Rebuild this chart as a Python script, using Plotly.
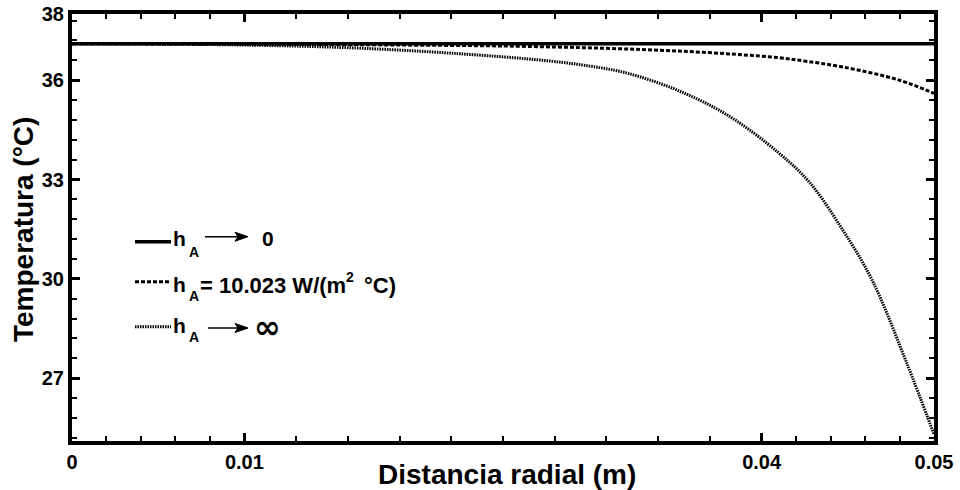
import plotly.graph_objects as go

# Radial temperature profiles (r in metres, T in degrees Celsius)
r_zero = [0.0, 0.05]
t_zero = [37.1, 37.1]

r_finite = [0.0, 0.010, 0.0195, 0.0265, 0.0352, 0.041, 0.0422, 0.0447, 0.048, 0.050]
t_finite = [37.1, 37.09, 37.06, 37.02, 36.88, 36.68, 36.6, 36.4, 36.0, 35.6]

r_inf = [0.0, 0.005, 0.0103, 0.0161, 0.0219, 0.0277, 0.0306, 0.0323, 0.0352,
         0.0381, 0.0410, 0.0428, 0.0447, 0.0464, 0.0484, 0.050]
t_inf = [37.1, 37.09, 37.06, 36.98, 36.82, 36.58, 36.38, 36.2, 35.68,
         34.92, 33.8, 32.9, 31.48, 29.97, 27.48, 25.3]

x_ticks = [0, 0.01, 0.04, 0.05]
x_tick_text = ["0", "0.01", "0.04", "0.05"]
x_minor = [0.002, 0.004, 0.006, 0.008,
           0.013, 0.016, 0.019, 0.022, 0.025, 0.028, 0.031, 0.034, 0.037,
           0.042, 0.044, 0.046, 0.048]
y_ticks = [27, 30, 33, 36, 38]
y_tick_text = ["27", "30", "33", "36", "38"]
y_minor = [25.2, 25.8, 26.4, 27.6, 28.2, 28.8, 29.4, 30.6, 31.2, 31.8, 32.4,
           33.6, 34.2, 34.8, 35.4, 36.6, 37.2, 37.8]

FONT = "Liberation Sans, Arial, sans-serif"
PL, PR, PT, PB = 72, 934, 14, 441


def px(xp):
    return (xp - PL) / (PR - PL)


def py(yp):
    return (PB - yp) / (PB - PT)


fig = go.Figure()
fig.add_trace(go.Scatter(x=r_inf, y=t_inf, mode="lines", showlegend=False,
                         line=dict(color="black", width=3, dash="1.5px,1px", shape="spline")))
fig.add_trace(go.Scatter(x=r_finite, y=t_finite, mode="lines", showlegend=False,
                         line=dict(color="black", width=3, dash="4px,2px", shape="spline")))
fig.add_trace(go.Scatter(x=r_zero, y=t_zero, mode="lines", showlegend=False,
                         line=dict(color="black", width=3.5)))

axis_common = dict(
    showline=True, linewidth=4, linecolor="black", mirror="ticks",
    ticks="inside", ticklen=8, tickwidth=3, tickcolor="black",
    showgrid=False, zeroline=False, automargin=False,
    tickfont=dict(family=FONT, size=20, color="black", weight="bold"),
)
minor_common = dict(tickmode="array", ticks="inside", ticklen=5, tickwidth=2,
                    tickcolor="black", showgrid=False)

fig.update_layout(
    width=960, height=490,
    margin=dict(l=PL, r=960 - PR, t=PT, b=490 - PB, pad=0),
    paper_bgcolor="white", plot_bgcolor="white",
    xaxis=dict(range=[0, 0.05], tickmode="array", tickvals=x_ticks,
               ticktext=["<b>%s</b>" % t for t in x_tick_text],
               minor=dict(tickvals=x_minor, **minor_common), **axis_common),
    yaxis=dict(range=[25.1, 38.0], tickmode="array", tickvals=y_ticks,
               ticktext=["<b>%s</b>" % t for t in y_tick_text],
               minor=dict(tickvals=y_minor, **minor_common), **axis_common),
)

bold = dict(family=FONT, size=21, color="black", weight="bold")
bold_wide = dict(family=FONT, size=22, color="black", weight="bold")
small = dict(family=FONT, size=14, color="black", weight="bold")
title_font = dict(family=FONT, size=28, color="black", weight="bold")


def label(xp, yp, text, font, **kw):
    return dict(x=px(xp), y=py(yp), xref="paper", yref="paper", text=text,
                showarrow=False, font=font, xanchor=kw.get("xanchor", "left"),
                yanchor="middle", textangle=kw.get("textangle", 0))


ann = [
    label(507, 474, "<b>Distancia radial (m)</b>", title_font, xanchor="center"),
    label(23, 230, "<b>Temperatura (°C)</b>", title_font, xanchor="center", textangle=-90),
    # row 1: h_A -> 0
    label(171, 238, "<b>h</b>", bold),
    label(187, 252, "<b>A</b>", small),
    label(260, 238, "<b>0</b>", bold),
    # row 2: h_A = 10.023 W/(m^2 °C)
    label(171, 284, "<b>h</b>", bold),
    label(187, 296, "<b>A</b>", small),
    label(198, 285, "<b>= 10.023 W/(m</b>", bold_wide),
    label(344, 277, "<b>2</b>", small),
    label(362, 285, "<b>°C)</b>", bold_wide),
    # row 3: h_A -> infinity
    label(171, 326, "<b>h</b>", bold),
    label(187, 337, "<b>A</b>", small),
    label(252, 327, "∞", dict(family="DejaVu Sans", size=32, color="black", weight="bold")),
]

shapes = []
# legend line samples
for y_s, dash, w in [(241.7, "solid", 3.5), (281.7, "4px,2px", 3), (326.7, "1.5px,1px", 3)]:
    shapes.append(dict(type="line", xref="paper", yref="paper",
                       x0=px(135), x1=px(171), y0=py(y_s), y1=py(y_s),
                       line=dict(color="black", width=w, dash=dash)))


def arrow(x_start, x_tip, yp):
    out = [dict(type="line", xref="paper", yref="paper",
                x0=px(x_start), x1=px(x_tip - 6), y0=py(yp), y1=py(yp),
                line=dict(color="black", width=1.5))]
    pts = [(x_tip, yp), (x_tip - 13, yp - 4.5), (x_tip - 10, yp), (x_tip - 13, yp + 4.5)]
    path = "M " + " L ".join("%.5f,%.5f" % (px(a), py(b)) for a, b in pts) + " Z"
    out.append(dict(type="path", xref="paper", yref="paper", path=path,
                    fillcolor="black", line=dict(color="black", width=1)))
    return out


shapes += arrow(205, 248, 236.7)
shapes += arrow(208, 248, 328)

fig.update_layout(annotations=ann, shapes=shapes)
fig.write_html("out.html")
